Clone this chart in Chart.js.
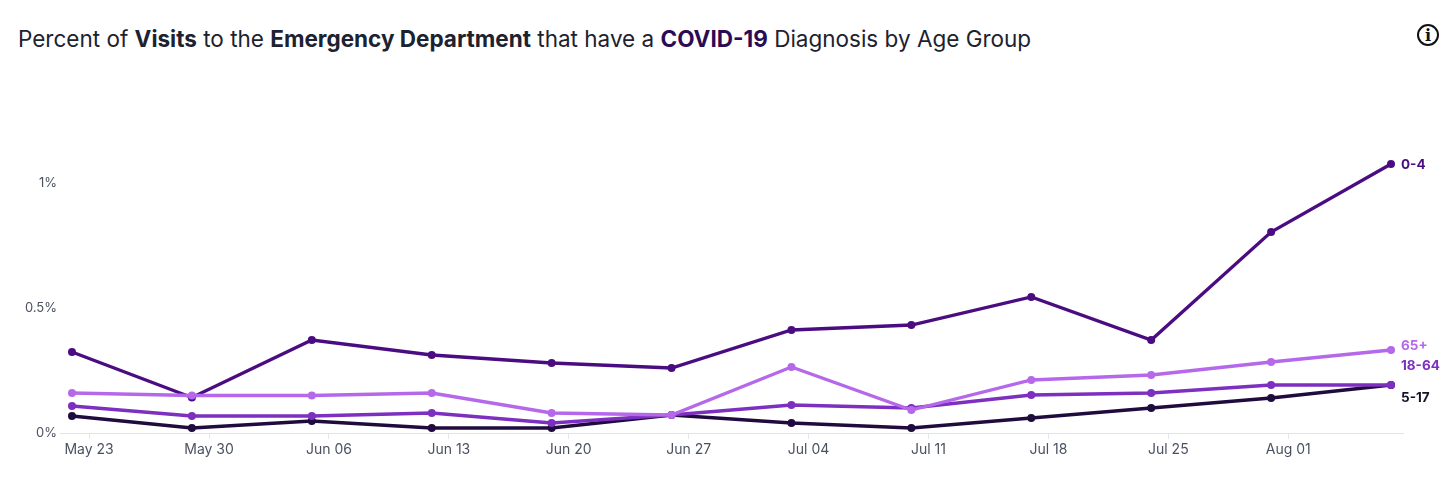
<!DOCTYPE html>
<html>
<head>
<meta charset="utf-8">
<script src="https://cdn.jsdelivr.net/npm/chart.js@4.4.1/dist/chart.umd.min.js"></script>
<style>
  html, body { margin: 0; padding: 0; background: #fff; }
  body { width: 1456px; height: 479px; position: relative; overflow: hidden; font-family: Inter, "Noto Sans", sans-serif; }
  #titulo { position: absolute; left: 18px; top: 25px; font-size: 22.5px; color: #1c2230; white-space: nowrap; }
  #titulo b { font-weight: 700; }
  #titulo .covid { color: #2b0b55; }
  #info { position: absolute; left: 1417px; top: 24px; width: 18px; height: 18px; border: 2.5px solid #111; border-radius: 50%;
          font: bold 16px "DejaVu Serif", serif; color: #111; text-align: center; line-height: 19px; }
  #wrap { position: absolute; left: 0; top: 0; width: 1456px; height: 479px; }
</style>
</head>
<body>
<div id="titulo">Percent of <b>Visits</b> to the <b>Emergency Department</b> that have a <b class="covid">COVID-19</b> Diagnosis by Age Group</div>
<div id="info">i</div>
<div id="wrap"><canvas id="grafico"></canvas></div>
<script>
// semanas (data do ponto) e rótulos do eixo x
var datas = ['2021-05-22', '2021-05-29', '2021-06-05', '2021-06-12', '2021-06-19', '2021-06-26',
             '2021-07-03', '2021-07-10', '2021-07-17', '2021-07-24', '2021-07-31', '2021-08-07'];
var datas_ticks = ['2021-05-23', '2021-05-30', '2021-06-06', '2021-06-13', '2021-06-20', '2021-06-27',
                   '2021-07-04', '2021-07-11', '2021-07-18', '2021-07-25', '2021-08-01'];
var rotulos_x = ['May 23', 'May 30', 'Jun 06', 'Jun 13', 'Jun 20', 'Jun 27', 'Jul 04', 'Jul 11', 'Jul 18', 'Jul 25', 'Aug 01'];
var ticks_y = [0, 0.5, 1];

// % de visitas com diagnóstico de COVID-19
var idade_0_4   = [0.324, 0.142, 0.372, 0.312, 0.280, 0.260, 0.412, 0.432, 0.544, 0.372, 0.804, 1.076];
var idade_5_17  = [0.068, 0.020, 0.048, 0.020, 0.020, 0.072, 0.040, 0.020, 0.060, 0.100, 0.140, 0.192];
var idade_18_64 = [0.108, 0.068, 0.068, 0.080, 0.040, 0.072, 0.112, 0.100, 0.152, 0.160, 0.192, 0.192];
var idade_65    = [0.160, 0.150, 0.150, 0.160, 0.080, 0.072, 0.264, 0.092, 0.212, 0.232, 0.284, 0.332];

var DIA = 86400000;
var inicio = Date.parse(datas[0]);
function dia(d) { return (Date.parse(d) - inicio) / DIA; }
function pontos(valores) {
    return valores.map(function (v, i) { return { x: dia(datas[i]), y: v }; });
}

function serie(label, valores, cor, ordem, desloc) {
    return {
        label: label,
        data: pontos(valores),
        borderColor: cor,
        backgroundColor: cor,
        borderWidth: 3.3,
        pointRadius: 4,
        pointHoverRadius: 4,
        pointBorderWidth: 0,
        tension: 0,
        order: ordem,
        desloc: desloc
    };
}

// rótulo no fim de cada linha
var rotulosFinais = {
    id: 'rotulosFinais',
    afterDatasetsDraw: function (chart) {
        var ctx = chart.ctx;
        ctx.save();
        ctx.font = 'bold 13.5px Inter, "Noto Sans", sans-serif';
        ctx.textBaseline = 'middle';
        ctx.textAlign = 'left';
        chart.data.datasets.forEach(function (ds, i) {
            var meta = chart.getDatasetMeta(i);
            var ult = meta.data[meta.data.length - 1];
            ctx.fillStyle = ds.corRotulo || ds.borderColor;
            ctx.fillText(ds.label, ult.x + 10, ult.y + ds.desloc);
        });
        ctx.restore();
    }
};

var s04 = serie('0-4', idade_0_4, '#4b0c82', 2, 1);
var s517 = serie('5-17', idade_5_17, '#1f0b3d', 3, 13);
s517.corRotulo = '#16122a';
var s1864 = serie('18-64', idade_18_64, '#7d2fc0', 1, -19);
var s65 = serie('65+', idade_65, '#b569ea', 0, -4);

var grafico = new Chart(document.getElementById('grafico').getContext('2d'), {
    type: 'line',
    data: { datasets: [s04, s517, s1864, s65] },
    options: {
        responsive: true,
        maintainAspectRatio: false,
        animation: false,
        layout: { padding: { top: 108, right: 53, left: 0, bottom: 0 } },
        plugins: {
            legend: { display: false },
            tooltip: { enabled: false }
        },
        scales: {
            x: {
                type: 'linear',
                min: -0.7,
                max: 77.7,
                afterBuildTicks: function (scale) {
                    scale.ticks = datas_ticks.map(function (d) { return { value: dia(d) }; });
                },
                afterFit: function (scale) { scale.height = 46; },
                ticks: {
                    autoSkip: false,
                    maxRotation: 0,
                    padding: 2,
                    color: '#4a5160',
                    font: { family: 'Inter, "Noto Sans", sans-serif', size: 14 },
                    callback: function (v, i) { return rotulos_x[i]; }
                },
                grid: { display: true, drawOnChartArea: false, drawTicks: true, tickLength: 6, color: '#e3e6eb' },
                border: { display: true, color: '#e0e3e8', width: 1 }
            },
            y: {
                min: 0,
                max: 1.3,
                afterBuildTicks: function (scale) {
                    scale.ticks = ticks_y.map(function (v) { return { value: v }; });
                },
                afterFit: function (scale) { scale.width = 60; },
                ticks: {
                    padding: 3,
                    color: '#4a5160',
                    font: { family: 'Inter, "Noto Sans", sans-serif', size: 13 },
                    callback: function (v) { return v + '%'; }
                },
                grid: { display: false, drawTicks: false },
                border: { display: false }
            }
        }
    },
    plugins: [rotulosFinais]
});
</script>
</body>
</html>
